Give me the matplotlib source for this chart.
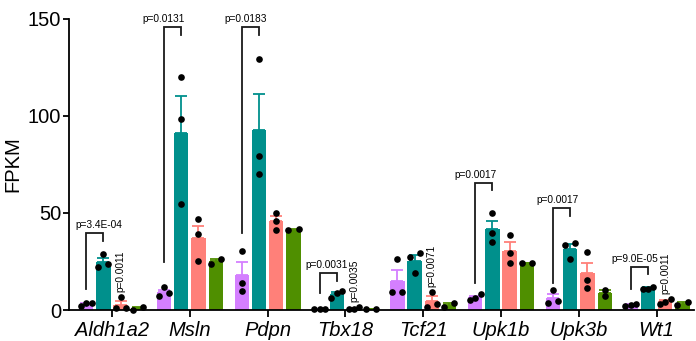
import numpy as np
import matplotlib
matplotlib.use("Agg")
import matplotlib.pyplot as plt

plt.rcParams['font.family'] = ['Liberation Sans', 'DejaVu Sans']

genes = ['Aldh1a2', 'Msln', 'Pdpn', 'Tbx18', 'Tcf21', 'Upk1b', 'Upk3b', 'Wt1']
colors = ['#D47FFF', '#00908C', '#FF8079', '#4F8F00']

# replicate FPKM values per gene, one list per group
grp_purple = [[2.2, 3.4, 3.4], [7.2, 11.7, 8.6], [30.6, 14.1, 9.8], [0.4, 0.5, 0.6],
              [26.5, 9.3, 9.3], [8.2, 5.2, 6.0], [10.3, 3.4, 4.8], [2.1, 3.1, 2.6]]
grp_teal = [[28.9, 22.3, 23.7], [120.3, 98.6, 54.6], [129.6, 79.4, 70.1], [10.0, 6.0, 8.6],
            [29.2, 27.5, 18.9], [50.2, 39.5, 34.9], [34.4, 33.5, 26.1], [10.7, 12.0, 11.0]]
grp_salmon = [[6.5, 1.0, 1.0], [47.0, 39.2, 25.3], [50.2, 45.9, 41.2], [1.4, 0.4, 0.3],
              [9.4, 3.1, 1.4], [38.7, 29.2, 24.1], [29.7, 15.5, 11.5], [5.8, 4.3, 3.1]]
grp_green = [[0.0, 1.6], [23.7, 26.4], [41.2, 41.6], [0.5, 0.7],
             [1.7, 3.8], [24.1, 24.1], [10.3, 7.2], [2.4, 4.1]]
groups = [grp_purple, grp_teal, grp_salmon, grp_green]

# purple vs teal comparisons: gene index, label, left leg bottom, bracket top, label shift
brackets = [
    (0, 'p=3.4E-04', 10.7, 39.7, 0.05),
    (1, 'p=0.0131', 24.9, 146.0, -0.11),
    (2, 'p=0.0183', 39.6, 146.0, -0.06),
    (3, 'p=0.0031', 8.6, 19.2, -0.02),
    (5, 'p=0.0017', 14.0, 65.6, -0.10),
    (6, 'p=0.0017', 13.7, 52.4, -0.05),
    (7, 'p=9.0E-05', 11.0, 22.3, -0.06),
]
# vertical labels over the salmon bars
side_labels = [(0, 'p=0.0011'), (3, 'p=0.0035'), (4, 'p=0.0071'), (7, 'p=0.0011')]

step = 0.222
width = 0.185
offsets = (np.arange(4) - 1.5) * step


def swarm(vals, thresh=2.8):
    # spread points with close values sideways, keep lone points centred
    vals = np.asarray(vals, float)
    order = np.argsort(vals)
    xs = np.zeros(len(vals))
    clusters = [[order[0]]]
    for i in order[1:]:
        if vals[i] - vals[clusters[-1][-1]] < thresh:
            clusters[-1].append(i)
        else:
            clusters.append([i])
    for c in clusters:
        if len(c) == 2:
            xs[c] = [-0.065, 0.065]
        elif len(c) >= 3:
            xs[c] = (np.arange(len(c)) - (len(c) - 1) / 2) * 0.07
    return xs


fig = plt.figure(figsize=(6.96, 3.41), dpi=100)
ax = fig.add_axes([0.0991, 0.0909, 0.898, 0.8534])

x = np.arange(len(genes))
for g, (grp, col) in enumerate(zip(groups, colors)):
    means = np.array([np.mean(v) for v in grp])
    sems = np.array([np.std(v, ddof=1) / np.sqrt(len(v)) for v in grp])
    pos = x + offsets[g]
    ax.bar(pos, means, width=width, color=col, zorder=2)
    ax.errorbar(pos, means, yerr=[np.zeros_like(sems), sems], fmt='none',
                ecolor=col, elinewidth=1.3, capsize=4, capthick=1.3, zorder=1.5)
    for p, v in zip(pos, grp):
        ax.plot(p + swarm(v), v, 'o', color='black', ms=4.8, mew=0,
                zorder=4, clip_on=False)

for gi, label, low, top, dx in brackets:
    x0 = x[gi] + offsets[0]
    x1 = x[gi] + offsets[1]
    ax.plot([x0, x0, x1, x1], [low, top, top, top - 4], color='#1a1a1a',
            lw=1.3, zorder=3, solid_joinstyle='miter')
    ax.text((x0 + x1) / 2 + dx, top + 1.5, label, ha='center', va='bottom',
            fontsize=7.3)

for gi, label in side_labels:
    ax.text(x[gi] + offsets[2], max(grp_salmon[gi]) + 2.6, label, rotation=90,
            ha='center', va='bottom', fontsize=7.3)

ax.set_xlim(-0.553, 7.48)
ax.set_ylim(0, 150)
ax.set_yticks([0, 50, 100, 150])
ax.set_xticks(x)
ax.set_xticklabels(genes, fontstyle='italic', fontsize=14.5)
ax.tick_params(axis='y', labelsize=14.5, length=4, width=1.3, pad=1.5)
ax.tick_params(axis='x', length=5, width=1.3, pad=3)
ax.set_ylabel('FPKM', fontsize=14.5, labelpad=4)
for s in ['top', 'right']:
    ax.spines[s].set_visible(False)
for s in ['left', 'bottom']:
    ax.spines[s].set_linewidth(1.3)

fig.savefig('out.png', dpi=100)
